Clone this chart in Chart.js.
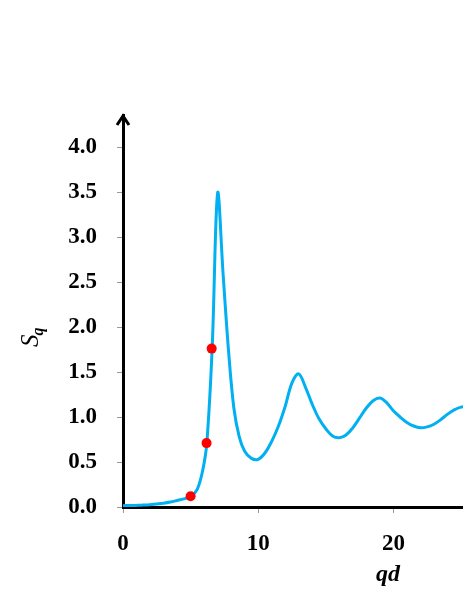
<!DOCTYPE html>
<html>
<head>
<meta charset="utf-8">
<script src="https://cdn.jsdelivr.net/npm/chart.js@4/dist/chart.umd.min.js"></script>
<style>
  html, body { margin: 0; padding: 0; background: #fff; overflow: hidden; }
  #wrap { width: 463px; height: 599px; position: relative; overflow: hidden; }
</style>
</head>
<body>
<div id="wrap"><canvas id="sqChart" width="468" height="599"></canvas></div>
<script>
// Structure factor curve
const qdValues = [0, 0.5, 1, 1.5, 2, 2.5, 3, 3.5, 4, 4.5, 5, 5.5, 5.9, 6.2, 6.6, 7.0, 7.4, 7.8, 8.2, 8.6, 9.0, 9.5,
  10, 10.5, 11, 11.5, 12, 12.5, 13, 13.5, 14, 14.5, 15, 15.5, 16, 16.5, 17, 17.5, 18, 18.5, 19, 19.5,
  20, 20.5, 21, 21.5, 22, 22.5, 23, 23.5, 24, 24.5, 25, 25.5];
const sqValues = [0.015, 0.016, 0.018, 0.021, 0.026, 0.033, 0.042, 0.055, 0.072, 0.09, 0.115, 0.2, 0.41, 0.71, 1.78, 3.49, 2.6, 1.75, 1.1, 0.78, 0.62, 0.54,
  0.53, 0.6, 0.73, 0.9, 1.12, 1.38, 1.48, 1.33, 1.14, 0.98, 0.87, 0.79, 0.77, 0.8, 0.88, 0.99, 1.1, 1.18, 1.21, 1.16,
  1.07, 1.0, 0.94, 0.9, 0.88, 0.89, 0.92, 0.97, 1.03, 1.08, 1.11, 1.12];

// Highlighted points (red)
const markQd = [5.0, 6.18, 6.56];
const markSq = [0.12, 0.71, 1.76];

const yTicks = [0, 0.5, 1.0, 1.5, 2.0, 2.5, 3.0, 3.5, 4.0];
const xTicks = [0, 10, 20];
const xTitle = 'qd';
const yTitleMain = 'S';
const yTitleSub = 'q';

const curve = qdValues.map((q, i) => ({ x: q, y: sqValues[i] }));
const marks = markQd.map((q, i) => ({ x: q, y: markSq[i] }));

const tickFont = { family: '"Liberation Serif", "Times New Roman", serif', size: 23, weight: 'bold' };

// arrow on the y axis + axis titles
const axisDecor = {
    id: 'axisDecor',
    afterDraw(chart) {
        const { ctx, chartArea } = chart;
        const x = chart.scales.x.getPixelForValue(0);
        const top = chartArea.top;
        ctx.save();
        ctx.strokeStyle = '#000';
        ctx.lineWidth = 3;
        ctx.beginPath();
        ctx.moveTo(x - 6, top + 10);
        ctx.lineTo(x, top + 1);
        ctx.lineTo(x + 6, top + 10);
        ctx.stroke();

        ctx.fillStyle = '#000';
        ctx.textBaseline = 'alphabetic';
        ctx.font = 'italic bold 24px "Liberation Serif"';
        ctx.textAlign = 'center';
        ctx.fillText(xTitle, 388, 581);

        ctx.translate(38, 347);
        ctx.rotate(-Math.PI / 2);
        ctx.textAlign = 'left';
        ctx.font = 'italic 25px "Liberation Serif"';
        ctx.fillText(yTitleMain, 0, 0);
        const w = ctx.measureText(yTitleMain).width;
        ctx.font = 'italic bold 16px "Liberation Serif"';
        ctx.fillText(yTitleSub, w - 1, 5);
        ctx.restore();
    }
};

const ctx = document.getElementById('sqChart').getContext('2d');
const sqChart = new Chart(ctx, {
    type: 'line',
    data: {
        datasets: [{
            data: marks,
            showLine: false,
            pointRadius: 5,
            pointBackgroundColor: '#ff0000',
            pointBorderColor: '#ff0000',
            pointBorderWidth: 0,
            order: 0
        }, {
            data: curve,
            borderColor: '#00b0f0',
            borderWidth: 3,
            pointRadius: 0,
            tension: 0.35,
            fill: false,
            order: 1
        }]
    },
    options: {
        responsive: false,
        animation: false,
        layout: { padding: { top: 115, left: 0, right: 0, bottom: 0 } },
        plugins: {
            legend: { display: false },
            tooltip: { enabled: false }
        },
        scales: {
            x: {
                type: 'linear',
                min: 0,
                max: 25.15,
                afterBuildTicks: (scale) => { scale.ticks = xTicks.map(v => ({ value: v })); },
                afterFit: (scale) => { scale.height = 92; },
                border: { color: '#000', width: 3 },
                grid: { drawOnChartArea: false, color: '#999', tickLength: 6, lineWidth: 1 },
                ticks: { color: '#000', font: tickFont, padding: 17, maxRotation: 0 }
            },
            y: {
                type: 'linear',
                min: 0,
                max: 4.356,
                afterBuildTicks: (scale) => { scale.ticks = yTicks.map(v => ({ value: v })); },
                afterFit: (scale) => { scale.width = 123; },
                border: { color: '#000', width: 3 },
                grid: { drawOnChartArea: false, color: '#999', tickLength: 6, lineWidth: 1 },
                ticks: {
                    color: '#000',
                    font: tickFont,
                    padding: 20,
                    callback: (v) => Number(v).toFixed(1)
                }
            }
        }
    },
    plugins: [axisDecor]
});
</script>
</body>
</html>
